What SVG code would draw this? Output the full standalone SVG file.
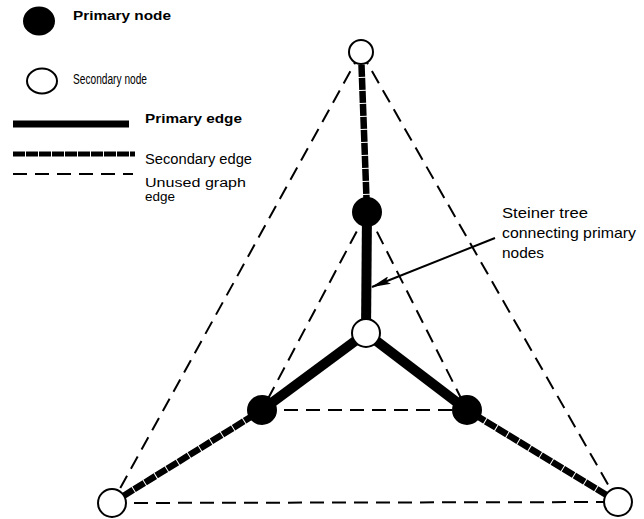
<svg xmlns="http://www.w3.org/2000/svg" width="644" height="519" viewBox="0 0 644 519">
<defs>
<style>
.dash{fill:none;stroke:#000;stroke-width:2;stroke-dasharray:14 8}
.sec{fill:none;stroke:#000;stroke-width:6.5;stroke-dasharray:12 1}
.pri{fill:none;stroke:#000;stroke-width:10}
.pn{fill:#000;stroke:#000;stroke-width:2}
.sn{fill:#fff;stroke:#000;stroke-width:2}
.t{font-family:"Liberation Sans",Arial,sans-serif;fill:#000}
</style>
<marker id="ah" viewBox="0 0 20 8" refX="19" refY="4" markerWidth="20" markerHeight="8" markerUnits="userSpaceOnUse" orient="auto">
<path d="M0,0 L20,4 L0,8 L4,4 Z" fill="#000"/>
</marker>
</defs>
<rect width="644" height="519" fill="#fff"/>
<g id="legend">
<ellipse class="pn" cx="39" cy="21" rx="15" ry="13.5"/>
<text class="t" x="73" y="20" font-size="12" font-weight="bold" textLength="98" lengthAdjust="spacingAndGlyphs">Primary  node</text>
<ellipse class="sn" cx="42" cy="81" rx="15" ry="12.5"/>
<text class="t" x="73" y="84" font-size="14" textLength="74" lengthAdjust="spacingAndGlyphs">Secondary node</text>
<line class="pri" x1="13" y1="124" x2="129" y2="124" style="stroke-width:7"/>
<text class="t" x="145" y="123" font-size="12.5" font-weight="bold" textLength="97" lengthAdjust="spacingAndGlyphs">Primary edge</text>
<line class="sec" x1="13" y1="154" x2="135" y2="154" style="stroke-width:5"/>
<text class="t" x="145" y="164" font-size="14" textLength="107" lengthAdjust="spacingAndGlyphs">Secondary edge</text>
<line class="dash" x1="13" y1="174" x2="133" y2="174"/>
<text class="t" x="145" y="187" font-size="12.5" textLength="101" lengthAdjust="spacingAndGlyphs">Unused graph</text>
<text class="t" x="145" y="201" font-size="12.5" textLength="30" lengthAdjust="spacingAndGlyphs">edge</text>
</g>
<g id="connectors">
<line class="dash" x1="361" y1="52" x2="112" y2="503"/>
<line class="dash" x1="361" y1="52" x2="618" y2="502"/>
<line class="dash" x1="112" y1="503" x2="618" y2="502"/>
<line class="dash" x1="367" y1="212" x2="262" y2="410"/>
<line class="dash" x1="367" y1="212" x2="467" y2="410"/>
<line class="dash" x1="262" y1="410" x2="467" y2="410"/>
<line class="sec" x1="361" y1="52" x2="367" y2="212"/>
<line class="sec" x1="112" y1="503" x2="262" y2="410"/>
<line class="sec" x1="618" y1="502" x2="467" y2="410"/>
<line class="pri" x1="367" y1="212" x2="366" y2="333"/>
<line class="pri" x1="366" y1="333" x2="262" y2="410"/>
<line class="pri" x1="366" y1="333" x2="467" y2="410"/>
<line x1="495" y1="238" x2="372" y2="287" stroke="#000" stroke-width="2" marker-end="url(#ah)"/>
</g>
<g id="n-top"><circle class="sn" cx="361" cy="52" r="12"/></g>
<g id="n-upper"><circle class="pn" cx="367" cy="212" r="14"/></g>
<g id="n-center"><circle class="sn" cx="366" cy="333" r="14"/></g>
<g id="n-left"><circle class="pn" cx="262" cy="410" r="14"/></g>
<g id="n-right"><circle class="pn" cx="467" cy="410" r="14"/></g>
<g id="n-bl"><circle class="sn" cx="112" cy="503" r="14"/></g>
<g id="n-br"><circle class="sn" cx="618" cy="502" r="14"/></g>
<g id="label">
<text class="t" x="502" y="218" font-size="15" textLength="86" lengthAdjust="spacingAndGlyphs">Steiner tree</text>
<text class="t" x="502" y="238" font-size="15" textLength="134" lengthAdjust="spacingAndGlyphs">connecting primary</text>
<text class="t" x="502" y="258" font-size="15" textLength="42" lengthAdjust="spacingAndGlyphs">nodes</text>
</g>
</svg>
